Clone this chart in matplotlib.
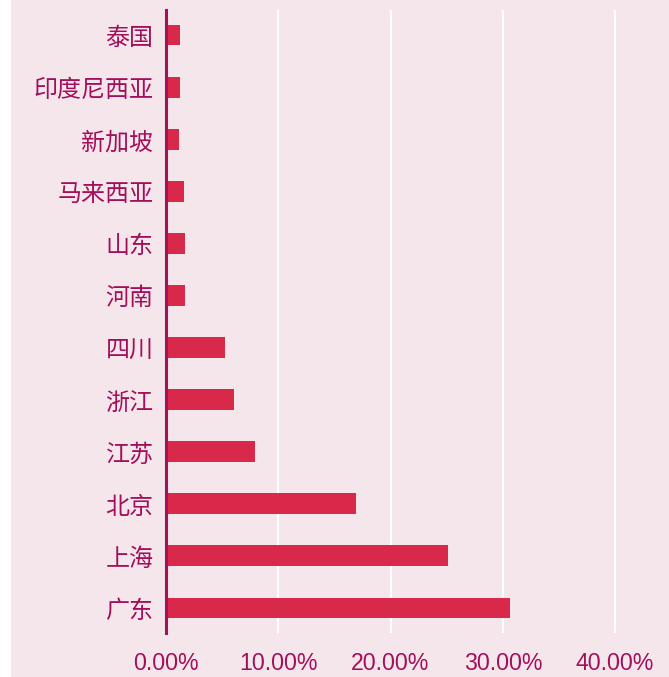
import matplotlib
matplotlib.use("Agg")
import matplotlib.pyplot as plt
from matplotlib.ticker import FuncFormatter
from matplotlib.patches import Rectangle

plt.rcParams['font.family'] = ['Noto Sans CJK SC', 'DejaVu Sans']

categories = ["泰国", "印度尼西亚", "新加坡", "马来西亚", "山东", "河南",
              "四川", "浙江", "江苏", "北京", "上海", "广东"]
values = [1.25, 1.25, 1.2, 1.6, 1.7, 1.7, 5.25, 6.1, 7.9, 16.9, 25.1, 30.6]
xticks = [0, 10, 20, 30, 40]

bg = "#f5e6ec"
bar_color = "#d9294a"
text_color = "#a3105a"

fig = plt.figure(figsize=(6.69, 6.77), dpi=100, facecolor=bg)
fig.patches.append(Rectangle((0, 0), 11 / 669, 1, transform=fig.transFigure,
                             facecolor="white", edgecolor="none", zorder=-1))
ax = fig.add_axes([166 / 669, 1 - 633 / 677, 1 - 166 / 669, (633 - 10) / 677])
ax.set_facecolor(bg)

ypos = list(range(len(categories)))
ax.barh(ypos, values, height=0.4, color=bar_color, zorder=3)
ax.set_ylim(len(categories) - 0.52, -0.48)
ax.set_xlim(0, 44.8)

ax.set_yticks(ypos)
ax.set_yticklabels(categories, fontsize=17.3, color=text_color)
ax.set_xticks(xticks)
ax.xaxis.set_major_formatter(FuncFormatter(lambda v, p: f"{v:.2f}%"))
for lab in ax.get_xticklabels():
    lab.set_family(['Liberation Sans', 'DejaVu Sans'])
ax.tick_params(axis='x', length=0, pad=14, labelsize=16.7, labelcolor=text_color)
ax.tick_params(axis='y', length=0, pad=9)

ax.grid(axis='x', color='white', linewidth=1.5, zorder=0)
for s in ['top', 'right', 'bottom']:
    ax.spines[s].set_visible(False)
ax.spines['left'].set_color(text_color)
ax.spines['left'].set_linewidth(2.2)
ax.spines['left'].set_zorder(4)

fig.savefig("out.png", dpi=100, facecolor=bg)
